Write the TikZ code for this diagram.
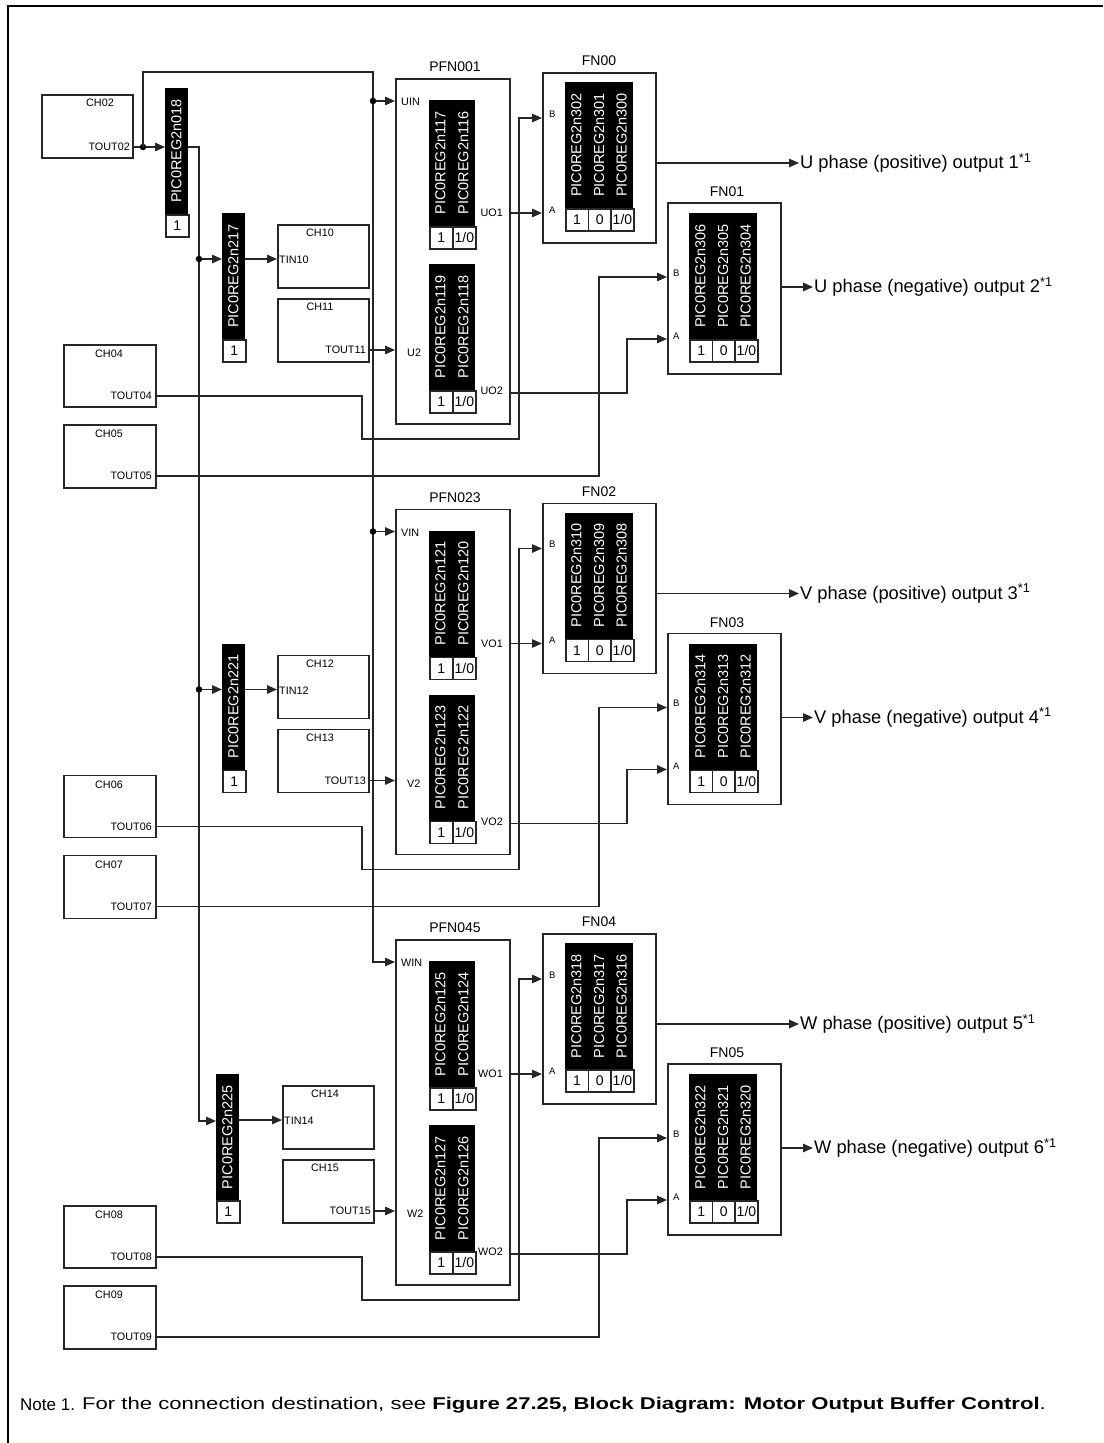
\documentclass[tikz,border=0pt]{standalone}
\usepackage{fontspec}
\setmainfont{Liberation Sans}
\newfontfamily\notefont[FakeStretch=1.3]{Liberation Sans}
\usetikzlibrary{arrows.meta}
\tikzset{
  ln/.style={line width=1.4pt, draw=black!85},
  arr/.style={ln, -{Triangle[length=10pt,width=8.5pt]}},
  boxs/.style={draw=black!85, line width=1.6pt, fill=white, inner sep=0pt, anchor=north west, rectangle},
  jdot/.style={circle, fill=black, inner sep=0pt, minimum size=6.5pt},
  sml/.style={font=\fontsize{10.8}{12}\selectfont, inner sep=0pt},
  ttl/.style={font=\fontsize{14}{16}\selectfont, inner sep=0pt},
  ab/.style={font=\fontsize{9.5}{11}\selectfont, inner sep=0pt, anchor=west},
  regtxt/.style={font=\fontsize{14.5}{16}\selectfont, text=white, rotate=90, inner sep=0pt},
  celltxt/.style={font=\fontsize{14}{16}\selectfont},
  outtxt/.style={font=\fontsize{18.3}{20}\selectfont, inner sep=0pt, anchor=west},
  notetxt/.style={font=\notefont\fontsize{17}{20}\selectfont, inner sep=0pt, anchor=west},
}
\newcommand\rbox[5]{\node[boxs, minimum width={((#4)-(#2))*1pt}, minimum height={((#5)-(#3))*1pt}] (#1) at (#2,#3) {};}
\newcommand\regcol[5]{%
  \fill[black] (#2,#3) rectangle ++(#4,126);
  \node[regtxt] (r#1) at ({#2+#4/2},{#3+63}) {#1};
  \node[boxs, minimum width={(#4)*1pt}, minimum height=22pt, celltxt] (c#1) at (#2,{#3+126}) {#5};
}
\begin{document}
\begin{tikzpicture}[x=1pt,y=-1pt]
\useasboundingbox (0,0) rectangle (1103,1443);
\draw[line width=2.6pt] (1103,6) -- (8,6) -- (8,1443);

% first channel and its register
\rbox{ch02}{41}{94}{132}{157}
\node[sml] (ch02t) at (100,103) {CH02};
\node[sml, anchor=east] (tout02) at (130,147) {TOUT02};
\regcol{PIC0REG2n018}{165}{88}{23}{1}
\coordinate (ch02o) at (132,147);
\coordinate (b018in) at (165,147);
\coordinate (b018out) at (188,147);
\coordinate (win) at (395,962);
\coordinate (b225in) at (216,1121);
\node[jdot] (j0) at (143,147) {};
\draw[ln] (ch02o) -- (j0);
\draw[arr] (j0) -- (b018in);
\draw[arr] (j0.center) -- (143,72) -- (373,72) -- (373,962) -- (win);
\draw[arr] (b018out) -- (199,147) -- (199,1121) -- (b225in);

\foreach \i/\qph/\pfn/\qsg in {0/U/001/0,1/V/023/1,2/W/045/2}{
  \pgfmathsetmacro\qdy{\i*430.5}
  \pgfmathtruncatemacro\qcha{4+2*\i}
  \pgfmathtruncatemacro\qchb{5+2*\i}
  \pgfmathtruncatemacro\qchc{10+2*\i}
  \pgfmathtruncatemacro\qchd{11+2*\i}
  \pgfmathtruncatemacro\qpb{217+4*\i}
  \pgfmathtruncatemacro\qra{117+4*\i}
  \pgfmathtruncatemacro\qrb{116+4*\i}
  \pgfmathtruncatemacro\qrc{119+4*\i}
  \pgfmathtruncatemacro\qrd{118+4*\i}
  \pgfmathtruncatemacro\qfa{2*\i}
  \pgfmathtruncatemacro\qfb{2*\i+1}
  \pgfmathtruncatemacro\qea{302+8*\i}
  \pgfmathtruncatemacro\qeb{301+8*\i}
  \pgfmathtruncatemacro\qec{300+8*\i}
  \pgfmathtruncatemacro\qed{306+8*\i}
  \pgfmathtruncatemacro\qee{305+8*\i}
  \pgfmathtruncatemacro\qef{304+8*\i}
  \pgfmathtruncatemacro\qoa{2*\i+1}
  \pgfmathtruncatemacro\qob{2*\i+2}
  \pgfmathsetmacro\qmx{ifthenelse(\i==2,5,0)}
  \pgfmathsetmacro\qbx{ifthenelse(\i==2,-6,0)}
  \begin{scope}[yshift={-\qdy pt}]
    % left channels
    \rbox{ch0\qcha}{63}{344}{155}{406}
    \node[sml] (ch0\qcha t) at (109,354) {CH0\qcha};
    \node[sml, anchor=east] (tout0\qcha) at (152,396) {TOUT0\qcha};
    \coordinate (o0\qcha) at (155,396);
    \rbox{ch0\qchb}{63}{424}{155}{487}
    \node[sml] (ch0\qchb t) at (109,434) {CH0\qchb};
    \node[sml, anchor=east] (tout0\qchb) at (152,476) {TOUT0\qchb};
    \coordinate (o0\qchb) at (155,476);
    % register bar
    \regcol{PIC0REG2n\qpb}{222+\qbx}{213}{23}{1}
    \coordinate (bin\qsg) at (222+\qbx,259);
    \coordinate (bout\qsg) at (245+\qbx,259);
    \ifnum\i<2
      \node[jdot] (jd\qsg) at (199,259) {};
      \draw[arr] (jd\qsg) -- (bin\qsg);
      \node[jdot] (jv\qsg) at (373,101) {};
      \coordinate (pin\qsg) at (395,101);
      \draw[arr] (jv\qsg) -- (pin\qsg);
    \fi
    % middle channels
    \rbox{ch\qchc}{277+\qmx}{224}{368+\qmx}{287}
    \node[sml] (ch\qchc t) at (320+\qmx,233) {CH\qchc};
    \node[sml, anchor=west] (tin\qchc) at (279+\qmx,260) {TIN\qchc};
    \coordinate (tinp\qsg) at (277+\qmx,259);
    \draw[arr] (bout\qsg) -- (tinp\qsg);
    \rbox{ch\qchd}{277+\qmx}{298}{368+\qmx}{361}
    \node[sml] (ch\qchd t) at (320+\qmx,307) {CH\qchd};
    \node[sml, anchor=east] (tout\qchd) at (366+\qmx,350) {TOUT\qchd};
    \coordinate (tp\qsg) at (368+\qmx,350);
    \coordinate (p2\qsg) at (395,350);
    \draw[arr] (tp\qsg) -- (p2\qsg);
    % PFN block
    \rbox{pfn\pfn}{395}{78}{509}{423}
    \node[ttl] (pfn\pfn t) at (455,67) {PFN\pfn};
    \node[sml, anchor=west] ({\qph}IN) at (401,102) {\qph IN};
    \node[sml, anchor=west] ({\qph}2) at (407,353) {\qph 2};
    \node[sml, anchor=east] ({\qph}O1) at (503,213) {\qph O1};
    \node[sml, anchor=east] ({\qph}O2) at (503,391) {\qph O2};
    \regcol{PIC0REG2n\qra}{429}{100}{23}{1}
    \regcol{PIC0REG2n\qrb}{452}{100}{23}{1/0}
    \regcol{PIC0REG2n\qrc}{429}{264}{23}{1}
    \regcol{PIC0REG2n\qrd}{452}{264}{23}{1/0}
    \coordinate (uo1\qsg) at (509,213);
    \coordinate (uo2\qsg) at (509,393);
    % FN even
    \rbox{fn0\qfa}{542}{72}{655}{242}
    \node[ttl] (fn0\qfa t) at (599,61) {FN0\qfa};
    \node[ab] (fnBl\qfa) at (549,114) {B};
    \node[ab] (fnAl\qfa) at (549,210) {A};
    \regcol{PIC0REG2n\qea}{565}{82}{22.67}{1}
    \regcol{PIC0REG2n\qeb}{587.67}{82}{22.67}{0}
    \regcol{PIC0REG2n\qec}{610.33}{82}{22.67}{1/0}
    \coordinate (fnB\qfa) at (542,118);
    \coordinate (fnA\qfa) at (542,213);
    \coordinate (fno\qfa) at (655,163);
    \coordinate (outp\qfa) at (799,163);
    % FN odd
    \rbox{fn0\qfb}{667}{202}{780}{373}
    \node[ttl] (fn0\qfb t) at (727,192) {FN0\qfb};
    \node[ab] (fnBl\qfb) at (673,273) {B};
    \node[ab] (fnAl\qfb) at (673,336) {A};
    \regcol{PIC0REG2n\qed}{689}{213}{22.67}{1}
    \regcol{PIC0REG2n\qee}{711.67}{213}{22.67}{0}
    \regcol{PIC0REG2n\qef}{734.33}{213}{22.67}{1/0}
    \coordinate (fnB\qfb) at (667,277);
    \coordinate (fnA\qfb) at (667,339);
    \coordinate (fno\qfb) at (780,287);
    \coordinate (outp\qfb) at (813,287);
    % routes
    \draw[arr] (o0\qcha) -- (362,396) -- (362,439) -- (519,439) -- (519,118) -- (fnB\qfa);
    \draw[arr] (uo1\qsg) -- (fnA\qfa);
    \draw[arr] (o0\qchb) -- (599,476) -- (599,277) -- (fnB\qfb);
    \draw[arr] (uo2\qsg) -- (627,393) -- (627,339) -- (fnA\qfb);
    \draw[arr] (fno\qfa) -- (outp\qfa);
    \draw[arr] (fno\qfb) -- (outp\qfb);
    \node[outtxt] (outt\qfa) at (800,163) {\qph\ phase (positive) output \qoa\textsuperscript{*1}};
    \node[outtxt] (outt\qfb) at (814,287) {\qph\ phase (negative) output \qob\textsuperscript{*1}};
  \end{scope}
}

\node[inner sep=0pt, anchor=west, font=\fontsize{17}{20}\selectfont] (note1) at (20,1405) {Note 1.};
\node[notetxt] (note2) at (82,1405) {For the connection destination, see \textbf{Figure 27.25, Block Diagram: Motor Output Buffer Control}.};
\end{tikzpicture}
\end{document}
